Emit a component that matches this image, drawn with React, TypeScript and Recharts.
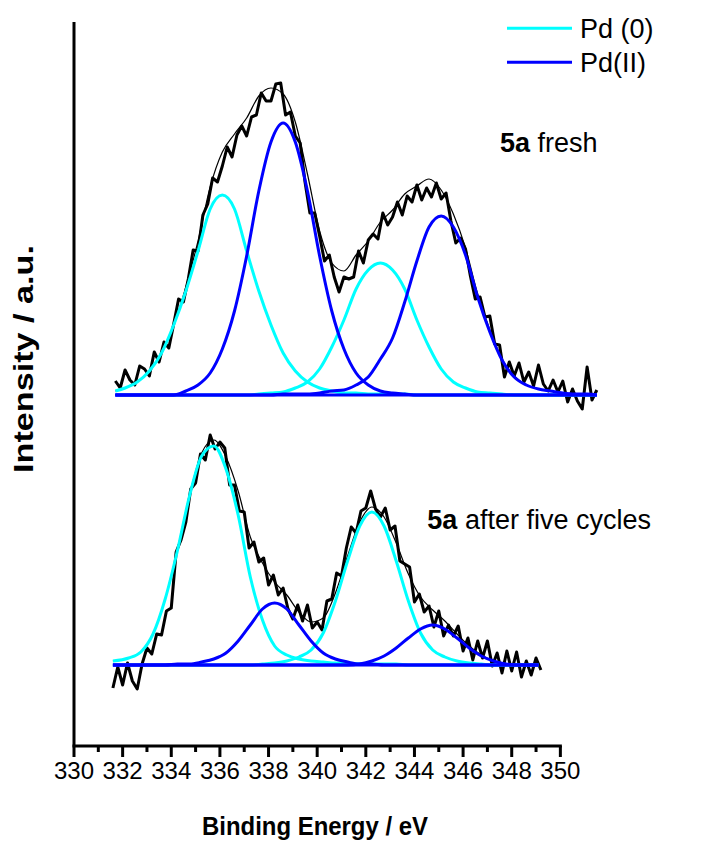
import {
  LineChart,
  Line,
  XAxis,
  YAxis,
  Legend,
  ReferenceLine,
  ReferenceDot,
  Label,
} from 'recharts';

const PD0 = '#00FFFF';
const PD2 = '#0000FF';
const FONT = '"Liberation Sans", Arial, Helvetica, sans-serif';
const RAW_STEP = 0.2;

// x axis ticks (binding energy, eV)
const xTicks = [
  330, 331, 332, 333, 334, 335, 336, 337, 338, 339, 340, 341, 342, 343, 344, 345, 346, 347, 348, 349, 350,
];

// ---- 5a fresh (upper spectrum) ----
const topEnergy = [
  331.7, 332.1, 332.6, 333.1, 333.6, 334.1, 334.6, 335.1, 335.6, 336.1, 336.6, 337.1, 337.6, 338.1,
  338.6, 339.1, 339.6, 340.1, 340.6, 341.1, 341.6, 342.1, 342.6, 343.1, 343.6, 344.1, 344.6, 345.1,
  345.6, 346.1, 346.6, 347.1, 347.6, 348.1, 348.6, 349.1, 349.6, 350.1, 350.6, 351.1, 351.5,
];
const topPd0a = [
  355, 358, 364, 375, 393, 421, 455, 495, 537, 551, 537, 495, 455, 421, 393, 375, 364, 358, 355, 353,
  353, 352, 352, 352, 352, 351, 351, 351, 351, 351, 351, 351, 351, 351, 351, 351, 351, 351, 351, 351, 351,
];
const topPd2a = [
  351, 351, 351, 351, 351, 351, 355, 361, 373, 397, 435, 490, 555, 604, 623, 604, 555, 490, 435, 397,
  373, 361, 355, 353, 352, 351, 351, 351, 351, 351, 351, 351, 351, 351, 351, 351, 351, 351, 351, 351, 351,
];
const topPd0b = [
  351, 351, 351, 351, 351, 351, 351, 351, 351, 351, 351, 351, 352, 353, 354, 358, 364, 377, 399, 426,
  457, 476, 483, 476, 457, 426, 399, 377, 364, 358, 354, 353, 352, 351, 351, 351, 351, 351, 351, 351, 351,
];
const topPd2b = [
  351, 351, 351, 351, 351, 351, 351, 351, 351, 351, 351, 351, 351, 351, 352, 352, 352, 353, 355, 356,
  361, 369, 387, 408, 444, 485, 519, 530, 519, 491, 449, 414, 386, 369, 361, 357, 355, 353, 352, 352, 351,
];
const topFit = [
  355, 358, 364, 375, 393, 421, 459, 505, 559, 594, 612, 628, 650, 658, 652, 624, 572, 515, 483, 475,
  491, 505, 524, 536, 552, 560, 567, 556, 532, 498, 452, 416, 387, 370, 361, 357, 355, 353, 352, 352, 351,
];
const topBaseEnergy = [331.7, 351.5];
const topBase = [351, 351];
const topRawStart = 331.7;
const topRaw = [
  365, 358, 376, 366, 361, 380, 377, 370, 394, 384,
  404, 398, 422, 447, 444, 467, 496, 495, 531, 542,
  568, 564, 580, 599, 589, 611, 620, 610, 629, 631,
  653, 645, 645, 662, 663, 631, 634, 610, 603, 564,
  533, 533, 510, 485, 491, 469, 454, 469, 467, 469,
  495, 483, 506, 512, 507, 533, 521, 529, 544, 531,
  550, 544, 561, 546, 558, 549, 563, 547, 553, 525,
  503, 508, 497, 470, 447, 449, 429, 430, 402, 401,
  369, 384, 370, 383, 364, 374, 360, 381, 362, 355,
  366, 354, 365, 344, 357, 345, 337, 379, 346, 356,
];

// ---- 5a after five cycles (lower spectrum) ----
const bottomEnergy = [
  331.6, 332.25, 332.75, 333.25, 333.75, 334.25, 334.75, 335.25, 335.75, 336.25, 336.75, 337.25,
  337.75, 338.25, 338.75, 339.25, 339.75, 340.25, 340.75, 341.25, 341.75, 342.25, 342.75, 343.25,
  343.75, 344.25, 344.75, 345.25, 345.75, 346.25, 346.75, 347.25, 347.75, 348.25, 348.75, 349.1,
];
const bottomPd0a = [
  85, 88, 94, 112, 147, 195, 250, 290, 300, 277, 231, 169, 126, 100, 91, 87, 85, 84, 83, 83,
  82, 82, 82, 82, 81, 81, 81, 81, 81, 81, 81, 81, 81, 81, 81, 81,
];
const bottomPd2a = [
  81, 81, 81, 81, 81, 82, 82, 84, 87, 93, 105, 121, 137, 143, 137, 121, 105, 93, 87, 84,
  82, 82, 81, 81, 81, 81, 81, 81, 81, 81, 81, 81, 81, 81, 81, 81,
];
const bottomPd0b = [
  81, 81, 81, 81, 81, 81, 81, 81, 81, 81, 81, 81, 82, 83, 85, 89, 96, 113, 145, 185,
  220, 234, 220, 185, 145, 113, 96, 89, 85, 83, 82, 81, 81, 81, 81, 81,
];
const bottomPd2b = [
  81, 81, 81, 81, 81, 81, 81, 81, 81, 81, 81, 81, 81, 81, 81, 81, 81, 81, 81, 81,
  82, 85, 90, 98, 108, 117, 121, 117, 108, 98, 90, 85, 82, 81, 81, 81,
];
const bottomFit = [
  85, 88, 94, 112, 147, 196, 251, 293, 306, 289, 255, 209, 183, 164, 151, 134, 124, 128, 153, 190,
  224, 239, 229, 203, 172, 149, 136, 125, 112, 100, 91, 85, 82, 81, 81, 81,
];
const bottomBaseEnergy = [331.6, 349.1];
const bottomBase = [81, 81];
const bottomRawStart = 331.6;
const bottomRaw = [
  58, 79, 61, 83, 65, 57, 82, 98, 92, 112,
  111, 135, 138, 194, 206, 224, 257, 263, 292, 286,
  311, 297, 304, 298, 261, 261, 235, 234, 198, 204,
  184, 188, 161, 171, 151, 158, 137, 127, 141, 125,
  141, 118, 124, 116, 145, 147, 173, 170, 198, 219,
  213, 235, 238, 255, 237, 229, 238, 216, 220, 185,
  182, 179, 144, 152, 134, 140, 119, 135, 110, 121,
  110, 120, 95, 108, 86, 105, 88, 105, 80, 93,
  73, 95, 75, 94, 69, 85, 71, 88, 76,
];

const legendOrder = ['Pd (0)', 'Pd(II)'];
const legendFallback = [
  { value: 'Pd (0)', color: PD0 },
  { value: 'Pd(II)', color: PD2 },
];

const pairs = (xs: number[], ys: number[]) => xs.map((x, i) => ({ x, y: ys[i] }));
const rawPairs = (start: number, ys: number[]) =>
  ys.map((y, i) => ({ x: Math.round((start + i * RAW_STEP) * 100) / 100, y }));

function EnergyTick(props: any) {
  const { x, y, payload } = props;
  const v = payload.value;
  const major = v % 2 === 0;
  return (
    <g>
      <line x1={x} x2={x} y1={y} y2={y + (major ? 11 : 6)} stroke="#000" strokeWidth={3} />
      {major && (
        <text x={x} y={y + 33} textAnchor="middle" fontSize={24} fontFamily={FONT} fill="#000">
          {v}
        </text>
      )}
    </g>
  );
}

function XTitle(props: any) {
  const { viewBox } = props;
  return (
    <text
      x={viewBox.x + 241}
      y={viewBox.y + 89}
      textAnchor="middle"
      fontSize={26}
      fontWeight="bold"
      fontFamily={FONT}
      fill="#000"
      textLength={226}
      lengthAdjust="spacingAndGlyphs"
    >
      Binding Energy / eV
    </text>
  );
}

function YTitle(props: any) {
  const { viewBox } = props;
  const x = viewBox.x - 1;
  const y = viewBox.y + 337;
  return (
    <text
      x={x}
      y={y}
      transform={`rotate(-90 ${x} ${y})`}
      textAnchor="middle"
      fontSize={28}
      fontWeight="bold"
      fontFamily={FONT}
      fill="#000"
      textLength={228}
      lengthAdjust="spacingAndGlyphs"
    >
      Intensity / a.u.
    </text>
  );
}

function Annotation(props: any) {
  const { viewBox, strong, rest } = props;
  return (
    <text x={viewBox.x} y={viewBox.y} fontSize={27} fontFamily={FONT} fill="#000">
      <tspan fontWeight="bold">{strong}</tspan>
      <tspan>{rest}</tspan>
    </text>
  );
}

function LegendBox(props: any) {
  const got = (props.payload || []).filter((p: any) => legendOrder.includes(p.value));
  const items = got.length === 2
    ? [...got].sort((a: any, b: any) => legendOrder.indexOf(a.value) - legendOrder.indexOf(b.value))
    : legendFallback;
  return (
    <svg width={703} height={80}>
      {items.map((it: any, i: number) => (
        <g key={it.value}>
          <line x1={507} x2={572} y1={28.3 + i * 34} y2={28.3 + i * 34} stroke={it.color} strokeWidth={3} />
          <text x={580} y={37.5 + i * 34} fontSize={27} fontFamily={FONT} fill="#000">
            {it.value}
          </text>
        </g>
      ))}
    </svg>
  );
}

export default function App() {
  const comps = [
    { key: 't-pd0a', data: pairs(topEnergy, topPd0a), color: PD0, name: 'Pd (0)' },
    { key: 't-pd0b', data: pairs(topEnergy, topPd0b), color: PD0 },
    { key: 'b-pd0a', data: pairs(bottomEnergy, bottomPd0a), color: PD0 },
    { key: 'b-pd0b', data: pairs(bottomEnergy, bottomPd0b), color: PD0 },
    { key: 't-base', data: pairs(topBaseEnergy, topBase), color: PD2 },
    { key: 'b-base', data: pairs(bottomBaseEnergy, bottomBase), color: PD2 },
    { key: 't-pd2a', data: pairs(topEnergy, topPd2a), color: PD2, name: 'Pd(II)' },
    { key: 't-pd2b', data: pairs(topEnergy, topPd2b), color: PD2 },
    { key: 'b-pd2a', data: pairs(bottomEnergy, bottomPd2a), color: PD2 },
    { key: 'b-pd2b', data: pairs(bottomEnergy, bottomPd2b), color: PD2 },
  ];

  return (
    <div style={{ position: 'absolute', left: 0, top: 0, width: 703, height: 848, background: '#fff' }}>
      <LineChart width={703} height={848} margin={{ top: 22, right: 94, bottom: 22, left: 34 }}>
        <XAxis
          type="number"
          dataKey="x"
          domain={[330, 352]}
          ticks={xTicks}
          interval={0}
          height={80}
          axisLine={false}
          tickLine={false}
          tickSize={0}
          tickMargin={0}
          tick={<EnergyTick />}
        >
          <Label content={<XTitle />} />
        </XAxis>
        <YAxis
          type="number"
          dataKey="y"
          domain={[0, 724]}
          width={40}
          tick={false}
          tickLine={false}
          axisLine={{ stroke: '#000', strokeWidth: 3 }}
        >
          <Label content={<YTitle />} />
        </YAxis>
        <ReferenceLine
          segment={[{ x: 330, y: 0 }, { x: 350, y: 0 }]}
          stroke="#000"
          strokeWidth={3}
          strokeLinecap="square"
        />

        <Line
          data={rawPairs(topRawStart, topRaw)}
          dataKey="y"
          type="linear"
          stroke="#000"
          strokeWidth={3}
          strokeLinejoin="round"
          dot={false}
          activeDot={false}
          legendType="none"
          isAnimationActive={false}
        />
        <Line
          data={rawPairs(bottomRawStart, bottomRaw)}
          dataKey="y"
          type="linear"
          stroke="#000"
          strokeWidth={3}
          strokeLinejoin="round"
          dot={false}
          activeDot={false}
          legendType="none"
          isAnimationActive={false}
        />
        <Line
          data={pairs(topEnergy, topFit)}
          dataKey="y"
          type="monotone"
          stroke="#000"
          strokeWidth={1.2}
          dot={false}
          activeDot={false}
          legendType="none"
          isAnimationActive={false}
        />
        <Line
          data={pairs(bottomEnergy, bottomFit)}
          dataKey="y"
          type="monotone"
          stroke="#000"
          strokeWidth={1.2}
          dot={false}
          activeDot={false}
          legendType="none"
          isAnimationActive={false}
        />
        {comps.map((c) => (
          <Line
            key={c.key}
            data={c.data}
            dataKey="y"
            name={c.name || c.key}
            type="monotone"
            stroke={c.color}
            strokeWidth={3}
            dot={false}
            activeDot={false}
            legendType={c.name ? 'line' : 'none'}
            isAnimationActive={false}
          />
        ))}

        <ReferenceDot
          x={347.52}
          y={594.3}
          r={0}
          fill="none"
          stroke="none"
          label={<Annotation strong="5a" rest=" fresh" />}
        />
        <ReferenceDot
          x={344.53}
          y={216.7}
          r={0}
          fill="none"
          stroke="none"
          label={<Annotation strong="5a" rest=" after five cycles" />}
        />

        <Legend
          layout="horizontal"
          align="center"
          verticalAlign="middle"
          content={<LegendBox />}
          wrapperStyle={{ position: 'absolute', top: 0, left: 0, width: 703, height: 80 }}
        />
      </LineChart>
    </div>
  );
}
